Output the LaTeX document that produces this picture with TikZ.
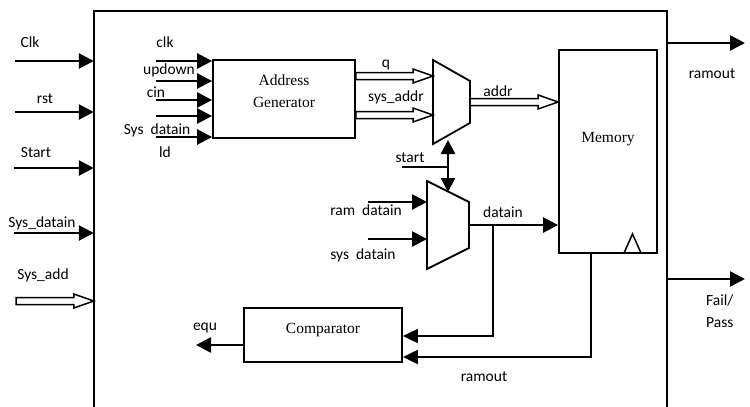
\documentclass[tikz,border=0pt]{standalone}
\usepackage{fontspec}
\setmainfont{Liberation Serif}
\newfontfamily\labfont{Carlito}
\usetikzlibrary{arrows.meta,calc}
\tikzset{
 box/.style={draw, line width=1.8pt, inner sep=0pt},
 lab/.style={font=\labfont\fontsize{15.5}{18}\selectfont, inner sep=0pt, anchor=base},
 serif/.style={font=\fontsize{15.5}{21.5}\selectfont, inner sep=0pt, align=center, anchor=base},
 sig/.style={line width=2.6pt, -{Triangle[length=15pt,width=15pt]}},
 thinsig/.style={line width=2pt, -{Triangle[length=15pt,width=14pt]}},
 wire/.style={line width=2pt},
 hollow/.style={draw, line width=1.5pt, fill=white, line join=miter},
}
\newcommand{\busarrow}[2]{\draw[hollow] let \p1=(#1), \p2=(#2) in (\x1,\y1+3.5pt) -- (\x2-20pt,\y1+3.5pt) -- (\x2-20pt,\y1+7pt) -- (\x2,\y1) -- (\x2-20pt,\y1-7pt) -- (\x2-20pt,\y1-3.5pt) -- (\x1,\y1-3.5pt) -- cycle;}
\begin{document}
\begin{tikzpicture}[x=1pt,y=-1pt]
\useasboundingbox (0,0) rectangle (750,407);
% outer box
\node[minimum width=573pt, minimum height=396pt, inner sep=0pt] (outer) at (380.5,209) {};
\draw[line width=1.8pt] (outer.south west) |- (outer.north east) -- (outer.south east);
% blocks
\node[box, minimum width=142pt, minimum height=78pt] (ag) at (284,99) {};
\node[serif] (agt) at (284,107) {Address\\Generator};
\node[box, minimum width=98pt, minimum height=203pt] (mem) at (608,151.5) {};
\node[serif] (memt) at (608,142) {Memory};
\node[box, minimum width=158pt, minimum height=54pt] (cmp) at (323,335) {};
\node[serif] (cmpt) at (323,333.6) {Comparator};
\draw[line width=1.5pt] (624,253) -- (632.5,234) -- (641,253);
% muxes
\coordinate (m1tl) at (433,60); \coordinate (m1tr) at (470,81);
\coordinate (m1br) at (470,123); \coordinate (m1bl) at (433,144);
\draw[line width=1.8pt] (m1tl) -- (m1tr) -- (m1br) -- (m1bl) -- cycle;
\coordinate (m1q) at (433,76); \coordinate (m1s) at (433,115);
\coordinate (m1o) at (470,102); \coordinate (m1b) at (448,140);
\coordinate (m2tl) at (427,181); \coordinate (m2tr) at (469,202);
\coordinate (m2br) at (469,248); \coordinate (m2bl) at (427,269);
\draw[line width=1.8pt] (m2tl) -- (m2tr) -- (m2br) -- (m2bl) -- cycle;
\coordinate (m2a) at (427,202); \coordinate (m2b) at (427,239);
\coordinate (m2o) at (469,225); \coordinate (m2t) at (448,192);
% labels
\node[lab] (lclk) at (30,47) {Clk};
\node[lab] (lrst) at (45,103) {rst};
\node[lab] (lstart) at (36,157) {Start};
\node[lab] (lsysd) at (42,227) {Sys\_datain};
\node[lab] (lsysa) at (43,279) {Sys\_add};
\node[lab] (aclk) at (165,47) {clk};
\node[lab] (aud) at (169,74) {updown};
\node[lab] (acin) at (156,97) {cin};
\node[lab] (asd) at (157,134) {Sys\hspace{0.45em}datain};
\node[lab] (ald) at (165,157) {ld};
\node[lab] (lq) at (386,67) {q};
\node[lab] (lsa) at (396,101.5) {sys\_addr};
\node[lab] (laddr) at (498,96) {addr};
\node[lab] (lst) at (410,162) {start};
\node[lab] (lrd) at (366,215) {ram\hspace{0.45em}datain};
\node[lab] (lsd) at (363,259) {sys\hspace{0.45em}datain};
\node[lab] (ldin) at (503,217) {datain};
\node[lab] (lro2) at (484,381) {ramout};
\node[lab] (lro) at (712,78) {ramout};
\node[lab, anchor=base west] (lfail) at (706,305.5) {Fail/};
\node[lab, anchor=base west] (lpass) at (706,327) {Pass};
\node[lab] (lequ) at (205,330.5) {equ};
% left inputs
\coordinate (clkin) at (15,61); \draw[sig] (clkin) -- (outer.west |- clkin);
\coordinate (rstin) at (15,112); \draw[sig] (rstin) -- (outer.west |- rstin);
\coordinate (stin) at (14,168); \draw[sig] (stin) -- (outer.west |- stin);
\coordinate (sdin) at (14,233); \draw[sig] (sdin) -- (outer.west |- sdin);
\coordinate (sain) at (16,301); \busarrow{sain}{outer.west |- sain}
% AG inputs
\coordinate (a1) at (156,61); \draw[sig] (a1) -- (ag.west |- a1);
\coordinate (a2) at (156,81); \draw[sig] (a2) -- (ag.west |- a2);
\coordinate (a3) at (156,100); \draw[sig] (a3) -- (ag.west |- a3);
\coordinate (a4) at (156,116); \draw[sig] (a4) -- (ag.west |- a4);
\coordinate (a5) at (156,137); \draw[sig] (a5) -- (ag.west |- a5);
% buses
\busarrow{ag.east |- m1q}{m1q}
\busarrow{ag.east |- m1s}{m1s}
\busarrow{m1o}{mem.west |- m1o}
% start / select
\coordinate (st) at (402,167); \coordinate (stj) at (448,167);
\draw[wire] (st) -- (stj);
\draw[line width=2.5pt, {Triangle[length=14pt,width=14pt]}-{Triangle[length=14pt,width=14pt]}] (m1b) -- (m2t);
% mux2 inputs
\coordinate (rd) at (368,202); \draw[sig] (rd) -- (m2a);
\coordinate (sd) at (368,239); \draw[sig] (sd) -- (m2b);
% datain
\draw[sig] (m2o) -- (mem.west |- m2o);
\coordinate (br) at (493,225); \coordinate (bj) at (493,336);
\draw[thinsig] (br) -- (bj) -- (cmp.east |- bj);
\coordinate (mj) at (591,357);
\draw[thinsig] (mem.south -| mj) -- (mj) -- (cmp.east |- mj);
% equ
\coordinate (eq) at (196,345); \draw[sig] (cmp.west |- eq) -- (eq);
% outputs
\coordinate (ro) at (745,43); \draw[sig] (outer.east |- ro) -- (ro);
\coordinate (fp) at (745,279); \draw[sig] (outer.east |- fp) -- (fp);
\end{tikzpicture}
\end{document}
